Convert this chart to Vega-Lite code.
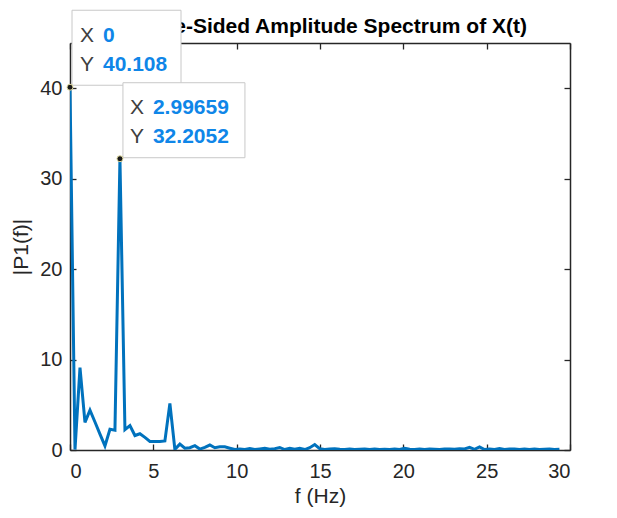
{
  "$schema": "https://vega.github.io/schema/vega-lite/v6.json",
  "width": 500,
  "height": 407,
  "autosize": {"type": "none"},
  "padding": {"left": 70, "top": 43, "right": 47, "bottom": 68},
  "background": "white",
  "config": {
    "view": {"stroke": null},
    "axis": {
      "grid": false,
      "domainColor": "#262626",
      "domainWidth": 1.5,
      "tickColor": "#262626",
      "tickWidth": 1.3,
      "tickSize": -6,
      "labelFont": "Liberation Sans",
      "labelFontSize": 20,
      "labelColor": "#262626",
      "titleFont": "Liberation Sans",
      "titleFontSize": 21,
      "titleFontWeight": "normal",
      "titleColor": "#262626"
    }
  },
  "datasets": {
    "spec": [
      {"f": 0, "p": 40.108},
      {"f": 0.2997, "p": 0.05},
      {"f": 0.5993, "p": 9.1},
      {"f": 0.899, "p": 3.05},
      {"f": 1.1986, "p": 4.4},
      {"f": 1.4983, "p": 3.1},
      {"f": 1.798, "p": 1.75},
      {"f": 2.0976, "p": 0.45},
      {"f": 2.3973, "p": 2.3},
      {"f": 2.6969, "p": 2.2},
      {"f": 2.99659, "p": 32.2052},
      {"f": 3.2962, "p": 2.25},
      {"f": 3.5959, "p": 2.7},
      {"f": 3.8956, "p": 1.6},
      {"f": 4.1952, "p": 1.8},
      {"f": 4.4949, "p": 1.4},
      {"f": 4.7945, "p": 0.95},
      {"f": 5.0942, "p": 0.95},
      {"f": 5.3939, "p": 0.95},
      {"f": 5.6935, "p": 1.0},
      {"f": 5.9932, "p": 5.15},
      {"f": 6.2928, "p": 0.07},
      {"f": 6.5925, "p": 0.65},
      {"f": 6.8922, "p": 0.2},
      {"f": 7.1918, "p": 0.25},
      {"f": 7.4915, "p": 0.48},
      {"f": 7.7911, "p": 0.1},
      {"f": 8.0908, "p": 0.3},
      {"f": 8.3905, "p": 0.55},
      {"f": 8.6901, "p": 0.25},
      {"f": 8.9898, "p": 0.35},
      {"f": 9.2894, "p": 0.35},
      {"f": 9.5891, "p": 0.2},
      {"f": 9.8887, "p": 0.05},
      {"f": 10.1884, "p": 0.1},
      {"f": 10.4881, "p": 0.05},
      {"f": 10.7877, "p": 0.15},
      {"f": 11.0874, "p": 0.05},
      {"f": 11.387, "p": 0.12},
      {"f": 11.6867, "p": 0.2},
      {"f": 11.9864, "p": 0.08},
      {"f": 12.286, "p": 0.15},
      {"f": 12.5857, "p": 0.28},
      {"f": 12.8853, "p": 0.05},
      {"f": 13.185, "p": 0.18},
      {"f": 13.4847, "p": 0.08},
      {"f": 13.7843, "p": 0.2},
      {"f": 14.084, "p": 0.05},
      {"f": 14.3836, "p": 0.25},
      {"f": 14.6833, "p": 0.6},
      {"f": 14.983, "p": 0.15},
      {"f": 15.2826, "p": 0.05},
      {"f": 15.5823, "p": 0.1},
      {"f": 15.8819, "p": 0.15},
      {"f": 16.1816, "p": 0.08},
      {"f": 16.4812, "p": 0.05},
      {"f": 16.7809, "p": 0.1},
      {"f": 17.0806, "p": 0.05},
      {"f": 17.3802, "p": 0.08},
      {"f": 17.6799, "p": 0.12},
      {"f": 17.9795, "p": 0.05},
      {"f": 18.2792, "p": 0.1},
      {"f": 18.5789, "p": 0.05},
      {"f": 18.8785, "p": 0.08},
      {"f": 19.1782, "p": 0.05},
      {"f": 19.4778, "p": 0.1},
      {"f": 19.7775, "p": 0.05},
      {"f": 20.0772, "p": 0.2},
      {"f": 20.3768, "p": 0.08},
      {"f": 20.6765, "p": 0.05},
      {"f": 20.9761, "p": 0.12},
      {"f": 21.2758, "p": 0.05},
      {"f": 21.5754, "p": 0.1},
      {"f": 21.8751, "p": 0.08},
      {"f": 22.1748, "p": 0.05},
      {"f": 22.4744, "p": 0.1},
      {"f": 22.7741, "p": 0.12},
      {"f": 23.0737, "p": 0.08},
      {"f": 23.3734, "p": 0.15},
      {"f": 23.6731, "p": 0.12},
      {"f": 23.9727, "p": 0.3},
      {"f": 24.2724, "p": 0.08},
      {"f": 24.572, "p": 0.35},
      {"f": 24.8717, "p": 0.05},
      {"f": 25.1714, "p": 0.1},
      {"f": 25.471, "p": 0.05},
      {"f": 25.7707, "p": 0.15},
      {"f": 26.0703, "p": 0.05},
      {"f": 26.37, "p": 0.1},
      {"f": 26.6696, "p": 0.12},
      {"f": 26.9693, "p": 0.05},
      {"f": 27.269, "p": 0.1},
      {"f": 27.5686, "p": 0.05},
      {"f": 27.8683, "p": 0.12},
      {"f": 28.1679, "p": 0.05},
      {"f": 28.4676, "p": 0.08},
      {"f": 28.7673, "p": 0.12},
      {"f": 29.0669, "p": 0.05},
      {"f": 29.3666, "p": 0.08}
    ],
    "tips": [
      {"id": "a", "f": 0, "p": 40.108, "xs": "0", "ys": "40.108"},
      {"id": "b", "f": 2.99659, "p": 32.2052, "xs": "2.99659", "ys": "32.2052"}
    ]
  },
  "layer": [
    {
      "data": {"name": "spec"},
      "mark": {"type": "line", "color": "#0072BD", "strokeWidth": 3, "clip": true},
      "encoding": {
        "x": {"field": "f", "type": "quantitative", "scale": {"domain": [0, 30], "nice": false, "zero": false},
              "axis": {"orient": "bottom", "title": "f (Hz)", "values": [0, 5, 10, 15, 20, 25, 30], "labelPadding": 17, "titlePadding": 4}},
        "y": {"field": "p", "type": "quantitative", "scale": {"domain": [0, 45], "nice": false},
              "axis": {"orient": "left", "title": "|P1(f)|", "values": [0, 10, 20, 30, 40], "labelPadding": 14, "titlePadding": 8}}
      }
    },
    {
      "data": {"name": "spec"},
      "mark": {"type": "line", "opacity": 0},
      "encoding": {
        "x": {"field": "f", "type": "quantitative", "axis": {"orient": "top", "title": null, "labels": false, "values": [0, 5, 10, 15, 20, 25, 30]}},
        "y": {"field": "p", "type": "quantitative", "axis": {"orient": "right", "title": null, "labels": false, "values": [0, 10, 20, 30, 40]}}
      }
    },
    {
      "data": {"values": [{"t": "One-Sided Amplitude Spectrum of X(t)"}]},
      "mark": {"type": "text", "align": "center", "baseline": "alphabetic", "dx": 16, "dy": -10, "fontSize": 21, "fontWeight": "bold", "font": "Liberation Sans", "color": "#000000"},
      "encoding": {
        "x": {"datum": 15, "type": "quantitative", "axis": null},
        "y": {"datum": 45, "type": "quantitative", "axis": null},
        "text": {"field": "t"}
      }
    },
    {
      "data": {"name": "tips"},
      "mark": {"type": "point", "filled": true, "fill": "#ffffff", "fillOpacity": 1, "stroke": "#c8c8c8", "strokeWidth": 1, "size": 4, "opacity": 1},
      "encoding": {
        "x": {"field": "f", "type": "quantitative", "axis": null},
        "y": {"field": "p", "type": "quantitative", "axis": null},
        "shape": {"field": "id", "type": "nominal", "scale": {"domain": ["a", "b"], "range": ["M2,-77H111V-2H2Z", "M3,-76H125V-1H3Z"]}, "legend": null}
      }
    },
    {
      "data": {"name": "tips"},
      "mark": {"type": "point", "filled": true, "fill": "#1a1a1a", "stroke": "#e3dca0", "strokeWidth": 1, "size": 36, "opacity": 1},
      "encoding": {
        "x": {"field": "f", "type": "quantitative", "axis": null},
        "y": {"field": "p", "type": "quantitative", "axis": null}
      }
    },
    {
      "data": {"name": "tips"},
      "mark": {"type": "text", "text": "X", "align": "left", "baseline": "alphabetic", "dx": 10, "dy": -45, "fontSize": 21, "font": "Liberation Sans", "color": "#404040"},
      "encoding": {
        "x": {"field": "f", "type": "quantitative", "axis": null},
        "y": {"field": "p", "type": "quantitative", "axis": null}
      }
    },
    {
      "data": {"name": "tips"},
      "mark": {"type": "text", "text": "Y", "align": "left", "baseline": "alphabetic", "dx": 10, "dy": -16, "fontSize": 21, "font": "Liberation Sans", "color": "#404040"},
      "encoding": {
        "x": {"field": "f", "type": "quantitative", "axis": null},
        "y": {"field": "p", "type": "quantitative", "axis": null}
      }
    },
    {
      "data": {"name": "tips"},
      "mark": {"type": "text", "align": "left", "baseline": "alphabetic", "dx": 33, "dy": -45, "fontSize": 21, "font": "Liberation Sans", "fontWeight": "bold", "color": "#0f86e8"},
      "encoding": {
        "x": {"field": "f", "type": "quantitative", "axis": null},
        "y": {"field": "p", "type": "quantitative", "axis": null},
        "text": {"field": "xs"}
      }
    },
    {
      "data": {"name": "tips"},
      "mark": {"type": "text", "align": "left", "baseline": "alphabetic", "dx": 33, "dy": -16, "fontSize": 21, "font": "Liberation Sans", "fontWeight": "bold", "color": "#0f86e8"},
      "encoding": {
        "x": {"field": "f", "type": "quantitative", "axis": null},
        "y": {"field": "p", "type": "quantitative", "axis": null},
        "text": {"field": "ys"}
      }
    }
  ]
}
